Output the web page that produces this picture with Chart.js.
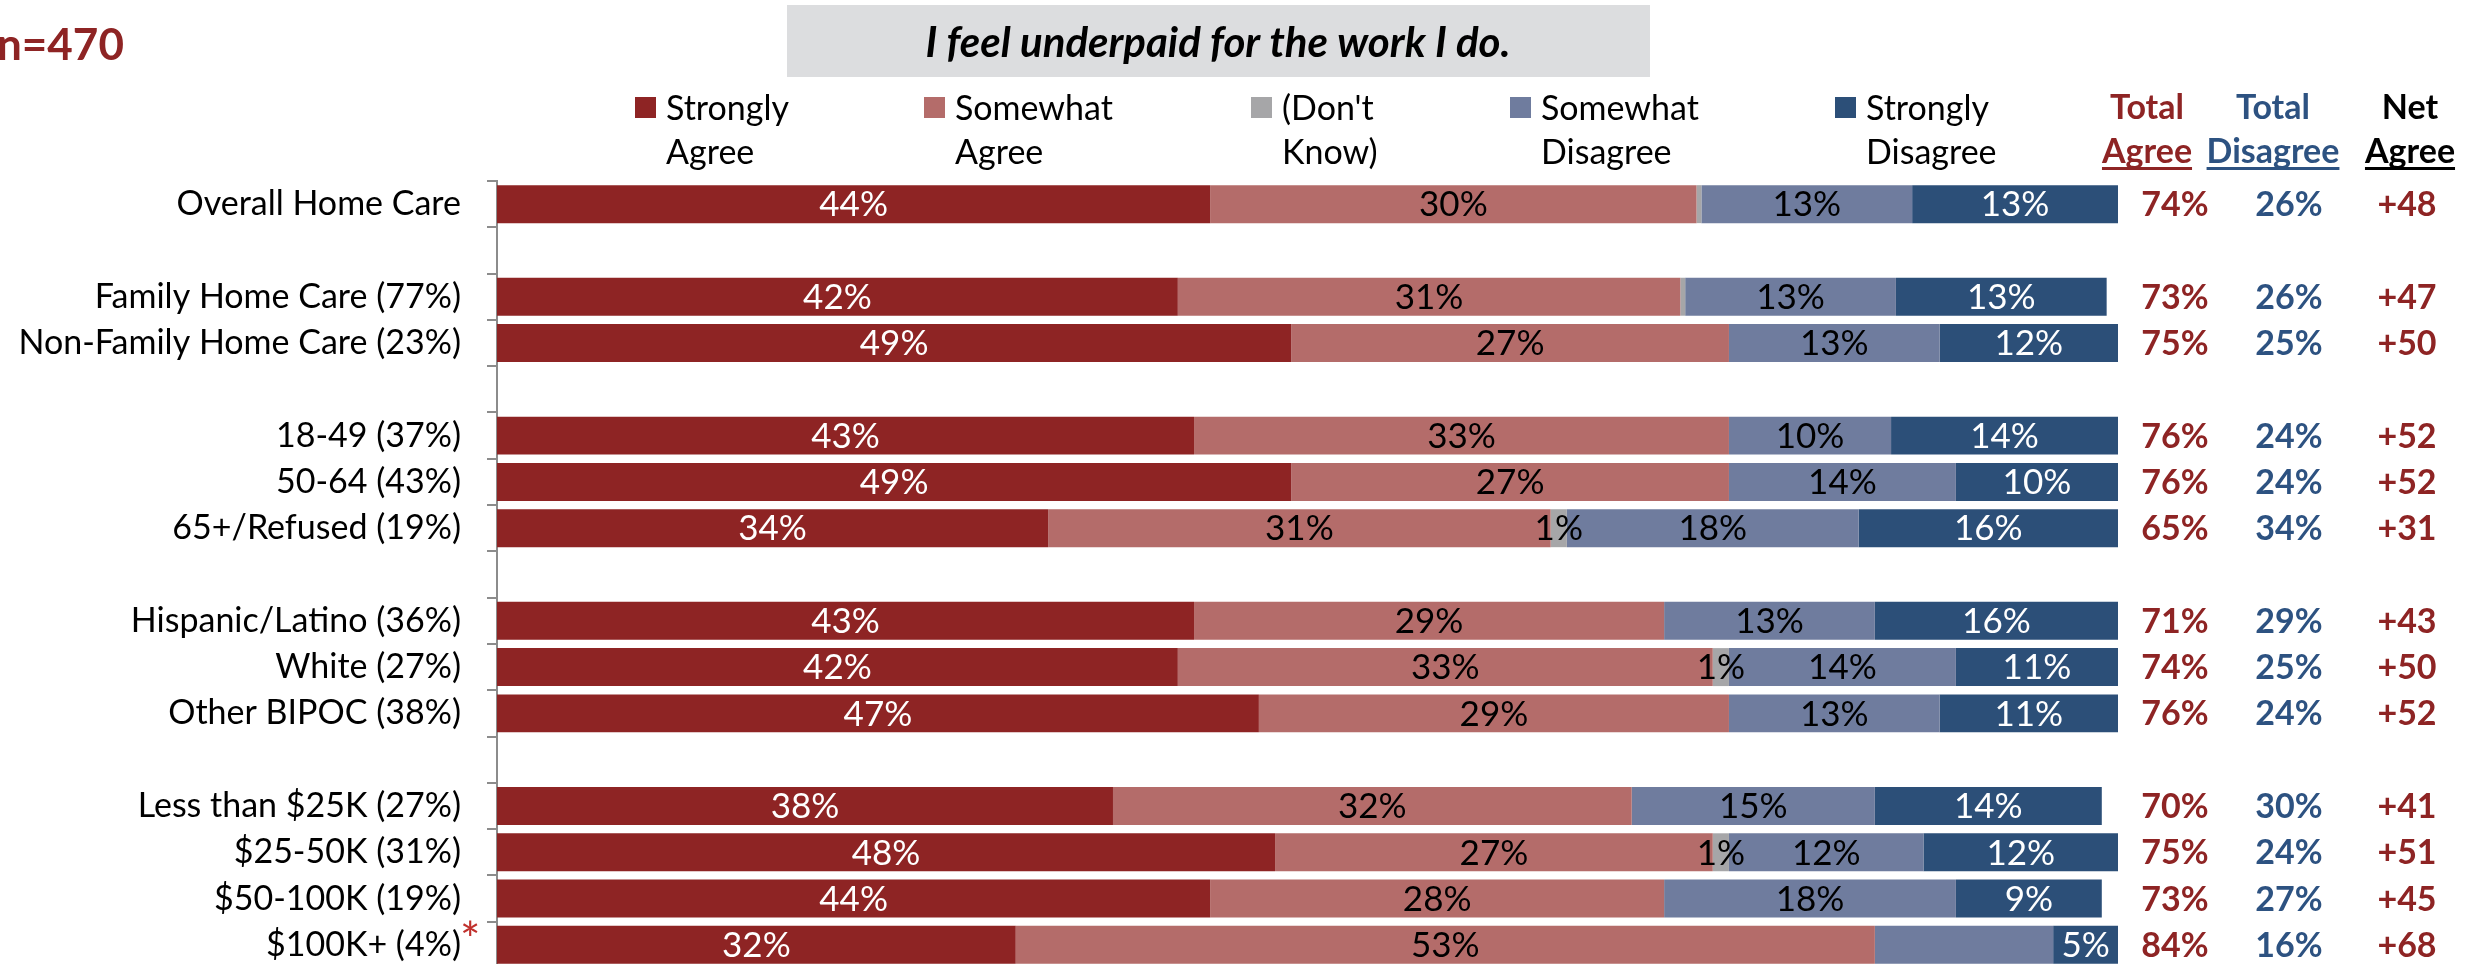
<!DOCTYPE html>
<html>
<head>
<meta charset="utf-8">
<script src="https://cdn.jsdelivr.net/npm/chart.js@4/dist/chart.umd.min.js"></script>
<style>
  html, body { margin: 0; padding: 0; background: #fff; overflow: hidden; }
  #wrap { width: 2465px; height: 964px; overflow: hidden; }
</style>
</head>
<body>
<div id="wrap"><canvas id="chart" width="2465" height="972"></canvas></div>
<script>
// rows (blank labels are spacer rows between groups)
const categories = [
  "Overall Home Care", "",
  "Family Home Care (77%)", "Non-Family Home Care (23%)", "",
  "18-49 (37%)", "50-64 (43%)", "65+/Refused (19%)", "",
  "Hispanic/Latino (36%)", "White (27%)", "Other BIPOC (38%)", "",
  "Less than $25K (27%)", "$25-50K (31%)", "$50-100K (19%)", "$100K+ (4%)"
];

const stronglyAgree    = [44, null, 42, 49, null, 43, 49, 34, null, 43, 42, 47, null, 38, 48, 44, 32];
const somewhatAgree    = [30, null, 31, 27, null, 33, 27, 31, null, 29, 33, 29, null, 32, 27, 28, 53];
const dontKnow         = [0.3, null, 0.3, 0, null, 0, 0, 1, null, 0, 1, 0, null, 0, 1, 0, 0];
const somewhatDisagree = [13, null, 13, 13, null, 10, 14, 18, null, 13, 14, 13, null, 15, 12, 18, 11];
const stronglyDisagree = [13, null, 13, 12, null, 14, 10, 16, null, 16, 11, 11, null, 14, 12, 9, 5];

const totalAgree    = [74, null, 73, 75, null, 76, 76, 65, null, 71, 74, 76, null, 70, 75, 73, 84];
const totalDisagree = [26, null, 26, 25, null, 24, 24, 34, null, 29, 25, 24, null, 30, 24, 27, 16];
const netAgree      = [48, null, 47, 50, null, 52, 52, 31, null, 43, 50, 52, null, 41, 51, 45, 68];

// segments that carry no value label ("datasetIndex:row")
const unlabeled = new Set(["3:16"]);

const FONT = "Lato, 'Open Sans', sans-serif";
const RED = "#8E2424";
const BLUE = "#2D5281";

const seriesColors = ["#8E2424", "#B46C6A", "#A6A6A8", "#6F7C9E", "#2C4F78"];
const labelColors  = ["#fff", "#000", "#000", "#000", "#fff"];

const datasets = [
  { label: "Strongly Agree", data: stronglyAgree },
  { label: "Somewhat Agree", data: somewhatAgree },
  { label: "(Don't Know)", data: dontKnow },
  { label: "Somewhat Disagree", data: somewhatDisagree },
  { label: "Strongly Disagree", data: stronglyDisagree }
].map((d, i) => ({
  ...d,
  backgroundColor: seriesColors[i],
  borderWidth: 0,
  barPercentage: 0.82,
  categoryPercentage: 1
}));

// value text inside each bar segment
const segmentLabels = {
  id: "segmentLabels",
  afterDatasetsDraw(chart) {
    const ctx = chart.ctx;
    const area = chart.chartArea;
    ctx.save();
    ctx.font = "35px " + FONT;
    ctx.textAlign = "center";
    ctx.textBaseline = "middle";
    chart.data.datasets.forEach((ds, di) => {
      chart.getDatasetMeta(di).data.forEach((bar, i) => {
        const v = ds.data[i];
        if (v == null || v < 1 || unlabeled.has(di + ":" + i)) return;
        const x0 = Math.max(bar.base, area.left);
        const x1 = Math.min(bar.x, area.right);
        ctx.fillStyle = labelColors[di];
        ctx.fillText(v + "%", (x0 + x1) / 2, bar.y + 1);
      });
    });
    ctx.restore();
  }
};

// heading, legend, summary columns
const decorations = {
  id: "decorations",
  afterDraw(chart) {
    const ctx = chart.ctx;
    const yScale = chart.scales.y;
    ctx.save();

    // sample size
    ctx.fillStyle = RED;
    ctx.font = "bold 44px " + FONT;
    ctx.textAlign = "left";
    ctx.textBaseline = "middle";
    ctx.fillText("n=470", -3, 46);

    // question box
    ctx.fillStyle = "#DCDDDF";
    ctx.fillRect(787, 5, 863, 72);
    ctx.fillStyle = "#000";
    ctx.font = "italic bold 42px " + FONT;
    ctx.textAlign = "center";
    ctx.fillText("I feel underpaid for the work I do.", 1218, 43);

    // legend, two lines per entry
    const legendX = [635, 924, 1251, 1510, 1835];
    ctx.font = "34px " + FONT;
    ctx.textAlign = "left";
    chart.data.datasets.forEach((ds, i) => {
      const x = legendX[i];
      ctx.fillStyle = ds.backgroundColor;
      ctx.fillRect(x, 97, 21, 21);
      const cut = ds.label.indexOf(" ");
      ctx.fillStyle = "#000";
      ctx.fillText(ds.label.slice(0, cut), x + 31, 109);
      ctx.fillText(ds.label.slice(cut + 1), x + 31, 153);
    });

    // summary column headers
    const headers = [
      { x: 2147, top: "Total", bottom: "Agree", color: RED },
      { x: 2273, top: "Total", bottom: "Disagree", color: BLUE },
      { x: 2410, top: "Net", bottom: "Agree", color: "#000" }
    ];
    ctx.font = "bold 34px " + FONT;
    ctx.textAlign = "center";
    headers.forEach(h => {
      ctx.fillStyle = h.color;
      ctx.fillText(h.top, h.x, 108);
      ctx.fillText(h.bottom, h.x, 152);
      const w = ctx.measureText(h.bottom).width;
      ctx.fillRect(h.x - w / 2, 167, w, 3);
    });

    // summary values per row
    const cols = [
      { x: 2175, vals: totalAgree, fmt: v => v + "%", color: RED },
      { x: 2289, vals: totalDisagree, fmt: v => v + "%", color: BLUE },
      { x: 2407, vals: netAgree, fmt: v => "+" + v, color: RED }
    ];
    cols.forEach(c => {
      ctx.fillStyle = c.color;
      c.vals.forEach((v, i) => {
        if (v == null) return;
        ctx.fillText(c.fmt(v), c.x, yScale.getPixelForValue(i) + 1);
      });
    });

    // small-base marker after the last row label
    ctx.fillStyle = "#C0302C";
    ctx.font = "48px " + FONT;
    ctx.textAlign = "left";
    ctx.textBaseline = "alphabetic";
    ctx.fillText("*", 460, yScale.getPixelForValue(categories.length - 1) + 12);

    ctx.restore();
  }
};

Chart.defaults.font.family = FONT;

new Chart(document.getElementById("chart"), {
  type: "bar",
  data: { labels: categories, datasets: datasets },
  options: {
    indexAxis: "y",
    responsive: false,
    animation: false,
    devicePixelRatio: 1,
    layout: { padding: { top: 181, bottom: 4, left: 0, right: 347 } },
    plugins: {
      legend: { display: false },
      tooltip: { enabled: false }
    },
    scales: {
      x: { stacked: true, min: 0, max: 100, display: false },
      y: {
        stacked: true,
        afterFit(scale) {
          scale.width = 497;
          // keep the row band tied to the layout padding only
          scale.paddingTop = 0;
          scale.paddingBottom = 0;
        },
        border: { display: true, color: "#8C8C8C", width: 2 },
        grid: { drawOnChartArea: false, drawTicks: true, tickLength: 10, color: "#8C8C8C", lineWidth: 2 },
        ticks: { autoSkip: false, color: "#000", padding: 26, font: { size: 34 } }
      }
    }
  },
  plugins: [segmentLabels, decorations]
});
</script>
</body>
</html>
